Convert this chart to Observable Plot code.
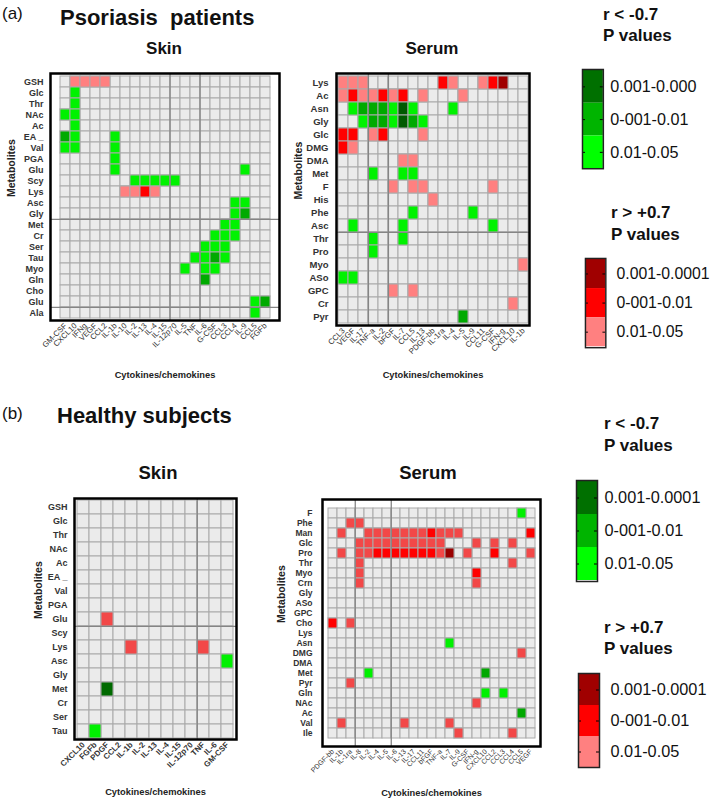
<!DOCTYPE html>
<html><head><meta charset="utf-8">
<script src="https://cdn.jsdelivr.net/npm/d3@7"></script>
<script src="https://cdn.jsdelivr.net/npm/@observablehq/plot@0.6"></script>
<style>
body{margin:0;background:#fff;font-family:"Liberation Sans",Arial,sans-serif;}
#root{position:relative;width:713px;height:803px;overflow:hidden;background:#fff;}
.abs{position:absolute;}
.abs svg{display:block;overflow:visible;}
</style></head><body><div id="root"></div>
<script>
// ---------- DATA ----------
// levels: -3 / -2 / -1 = r < -0.7 (p 0.001-0.0001 / 0.001-0.01 / 0.01-0.05); 1 / 2 / 3 = r > +0.7 (0.01-0.05 / 0.001-0.01 / 0.001-0.0001)
const levels = [-3, -2, -1, 1, 2, 3];

// (a) Psoriasis patients – Skin
const skinA_rows = ["GSH","Glc","Thr","NAc","Ac","EA _","Val","PGA","Glu","Scy","Lys","Asc","Gly","Met","Cr","Ser","Tau","Myo","Gln","Cho","Glu","Ala"];
const skinA_cols = ["GM-CSF","CXCL10","IFNg","VEGF","CCL2","IL-1b","IL-10","IL-2","IL-13","IL-4","IL-15","IL-12p70","IL-5","TNF","IL-6","G-CSF","CCL3","CCL4","IL-9","CCL5","FGFb"];
// [row index, column index, level]
const skinA_cells = [
  [0,1,1],[0,2,1],[0,3,1],[0,4,1],
  [1,1,-1],[2,1,-1],[3,0,-1],[3,1,-1],[4,1,-1],
  [5,0,-2],[5,1,-1],[5,5,-1],
  [6,0,-1],[6,1,-1],[6,5,-1],
  [7,5,-1],
  [8,5,-1],[8,18,-1],
  [9,7,-1],[9,8,-1],[9,9,-1],[9,10,-1],[9,11,-1],
  [10,6,1],[10,7,1],[10,8,2],[10,9,1],
  [11,17,-1],[11,18,-1],
  [12,17,-1],[12,18,-2],
  [13,16,-1],[13,17,-1],
  [14,15,-1],[14,16,-1],[14,17,-1],
  [15,14,-1],[15,15,-1],[15,16,-1],
  [16,13,-1],[16,14,-1],[16,15,-2],[16,16,-1],
  [17,12,-1],[17,14,-1],[17,15,-1],
  [18,14,-2],
  [20,19,-1],[20,20,-2],
  [21,19,-1]
];
const skinA_sepCols = [11, 14];
const skinA_sepRows = [13, 21];

// (a) Psoriasis patients – Serum
const serumA_rows = ["Lys","Ac","Asn","Gly","Glc","DMG","DMA","Met","F","His","Phe","Asc","Thr","Pro","Myo","ASo","GPC","Cr","Pyr"];
const serumA_cols = ["CCL3","VEGF","IL-17","TNF-a","IL-2","bFGF","IL-7","CCL5","IL-13","PDGF-bb","IL-1ra","IL-4","IL-5","IL-9","CCL11","G-CSF","IFN-g","CXCL10","IL-1b"];
const serumA_cells = [
  [0,0,1],[0,1,1],[0,2,1],[0,10,2],[0,11,1],[0,14,1],[0,15,2],[0,16,3],
  [1,0,1],[1,1,2],[1,2,1],[1,3,1],[1,4,2],[1,5,1],[1,6,2],[1,8,1],[1,12,1],
  [2,1,-1],[2,2,-2],[2,3,-2],[2,4,-2],[2,5,-1],[2,6,-3],[2,7,-1],[2,11,-1],
  [3,2,-1],[3,3,-2],[3,4,-2],[3,5,-1],[3,6,-3],[3,7,-2],[3,8,-1],
  [4,0,2],[4,1,2],[4,3,1],[4,4,2],[4,8,1],
  [5,0,2],[5,1,1],
  [6,6,1],[6,7,1],
  [7,3,-1],[7,6,-1],[7,7,-1],
  [8,5,1],[8,7,1],[8,8,1],[8,15,1],
  [9,9,1],
  [10,7,-1],[10,13,-1],
  [11,1,-1],[11,6,-1],[11,15,-1],
  [12,3,-1],[12,6,-1],
  [13,3,-1],
  [14,18,1],
  [15,0,-1],[15,1,-1],
  [16,5,1],[16,7,1],
  [17,17,1],
  [18,12,-2]
];
const serumA_sepCols = [3, 5];
const serumA_sepRows = [12];

// (b) Healthy subjects – Skin
const skinB_rows = ["GSH","Glc","Thr","NAc","Ac","EA _","Val","PGA","Glu","Scy","Lys","Asc","Gly","Met","Cr","Ser","Tau"];
const skinB_cols = ["CXCL10","FGFb","PDGF","CCL2","IL-1b","IL-2","IL-13","IL-4","IL-15","IL-12p70","TNF","IL-6","GM-CSF"];
const skinB_cells = [[8,2,1],[10,4,1],[10,10,1],[11,12,-1],[13,2,-3],[16,1,-1]];
const skinB_sepCols = [10];
const skinB_sepRows = [9];

// (b) Healthy subjects – Serum
const serumB_rows = ["F","Phe","Man","Glc","Pro","Thr","Myo","Crn","Gly","ASo","GPC","Cho","Lys","Asn","DMG","DMA","Met","Pyr","Gln","NAc","Ac","Val","Ile"];
const serumB_cols = ["PDGF-bb","IL-1b","IL-1ra","IL-8","IL-2","IL-4","IL-5","IL-6","IL-13","IL-17","CCL11","bFGF","TNF-a","IL-7","IL-9","G-CSF","IFN-g","CXCL10","CCL2","CCL3","CCL4","CCL5","VEGF"];
const serumB_cells = [
  [0,21,-1],
  [1,2,1],[1,3,1],
  [2,1,1],[2,4,1],[2,5,1],[2,6,1],[2,7,1],[2,8,1],[2,9,1],[2,10,1],[2,11,2],[2,12,1],[2,13,1],[2,14,1],[2,22,2],
  [3,3,1],[3,4,1],[3,5,1],[3,6,1],[3,7,1],[3,8,1],[3,9,1],[3,10,1],[3,11,1],[3,12,1],[3,16,1],[3,18,1],[3,20,1],
  [4,1,1],[4,3,1],[4,4,1],[4,5,2],[4,6,2],[4,7,2],[4,8,2],[4,9,2],[4,10,2],[4,11,2],[4,12,1],[4,13,3],[4,15,1],[4,18,2],[4,22,1],
  [5,3,1],[5,20,1],
  [6,3,1],[6,16,2],
  [7,3,1],[7,16,1],
  [11,0,2],[11,2,1],
  [13,13,-1],
  [14,21,1],
  [16,4,-1],[16,17,-2],
  [17,2,1],
  [18,17,-1],[18,19,-1],
  [19,16,1],
  [20,21,-2],
  [21,1,1],[21,8,1],[21,13,1],
  [22,14,1],[22,20,1]
];
const serumB_sepCols = [3, 7];
const serumB_sepRows = [];

// legends
const greenLegendA = ["0.001-0.000","0-001-0.01","0.01-0.05"];
const redLegend = ["0.001-0.0001","0-001-0.01","0.01-0.05"];
const greenLegendB = ["0.001-0.0001","0-001-0.01","0.01-0.05"];

// ---------- STYLE ----------
const paletteA = ["#005a00","#00aa00","#00f200","#ff8080","#ff0000","#a00000"];
const paletteB = ["#006a00","#00a800","#00f000","#f24848","#ff0000","#9a0000"];
const greenBar = ["#007000","#00b400","#00ff00"];
const redBar = ["#a00000","#ff0000","#ff8080"];
const FONT = "Liberation Sans, Arial, Helvetica, sans-serif";
const root = document.getElementById("root");

function place(node, left, top) {
  const d = document.createElement("div");
  d.className = "abs";
  d.style.left = left + "px";
  d.style.top = top + "px";
  d.appendChild(node);
  root.appendChild(d);
}

function heatmap(o) {
  const bw = (o.width - o.ml - o.mr) / o.cols.length;
  const bh = (o.height - o.mt - o.mb) / o.rows.length;
  const grid = d3.cross(d3.range(o.rows.length), d3.range(o.cols.length));
  return Plot.plot({
    width: o.width, height: o.height,
    marginLeft: o.ml, marginRight: o.mr, marginTop: o.mt, marginBottom: o.mb,
    style: {fontFamily: FONT, background: "transparent", overflow: "visible"},
    x: {domain: d3.range(o.cols.length), padding: 0, axis: null},
    y: {domain: d3.range(o.rows.length), padding: 0, axis: null},
    color: {type: "ordinal", domain: levels, range: o.palette},
    marks: [
      Plot.cell(grid, {x: d => d[1], y: d => d[0], fill: "#ebebeb", stroke: "#aaaaaa", strokeWidth: 1, inset: 0}),
      Plot.cell(o.cells, {x: d => d[1], y: d => d[0], fill: d => d[2], stroke: "#aaaaaa", strokeWidth: 1, inset: 0}),
      Plot.ruleX(o.sepX, {x: d => d, dx: -bw / 2, stroke: "#858585", strokeWidth: 1.3}),
      Plot.ruleY(o.sepY, {y: d => d, dy: -bh / 2, stroke: "#858585", strokeWidth: 1.3}),
      Plot.frame({stroke: "#000", strokeWidth: 2.5}),
      Plot.axisX({tickFormat: i => o.cols[i], tickRotate: -45, tickSize: 0, tickPadding: o.xpad, fontSize: o.xfs, fontWeight: o.xfw, fill: "#333", label: null}),
      Plot.axisY({tickFormat: i => o.rows[i], tickSize: 0, tickPadding: o.ypad, fontSize: o.yfs, fontWeight: "bold", fill: "#333", label: null}),
      Plot.text(["Cytokines/chemokines"], {frameAnchor: "bottom", dy: o.xlab, text: d => d, fontWeight: "bold", fontSize: 9.3, fill: "#222"}),
      Plot.text(["Metabolites"], {frameAnchor: "left", dx: o.ylab, rotate: -90, text: d => d, fontWeight: "bold", fontSize: 10.5, fill: "#222"})
    ]
  });
}

function legendBar(o) {
  return Plot.plot({
    width: o.bw + 2 + o.mr, height: o.h,
    marginLeft: 1, marginRight: o.mr + 1, marginTop: 1, marginBottom: 1,
    style: {fontFamily: FONT, background: "transparent", overflow: "visible"},
    x: {domain: ["bar"], padding: 0, axis: null},
    y: {domain: o.labels, padding: 0, axis: null},
    color: {type: "ordinal", domain: o.labels, range: o.colors},
    marks: [
      Plot.cell(o.labels, {x: () => "bar", y: d => d, fill: d => d, inset: 0}),
      Plot.tickY(o.labels, {y: d => d, stroke: "#000", insetRight: o.bw - 3}),
      Plot.tickY(o.labels, {y: d => d, stroke: "#000", insetLeft: o.bw - 3}),
      Plot.frame({stroke: "#222", strokeWidth: 1.5}),
      Plot.text(o.labels, {y: d => d, frameAnchor: "right", dx: o.tdx, dy: o.tdy || 0, textAnchor: "start", text: d => d, fontSize: 16.3, fill: "#111"})
    ]
  });
}

// ---------- HEATMAPS ----------
place(heatmap({rows: skinA_rows, cols: skinA_cols, cells: skinA_cells, palette: paletteA,
  sepX: skinA_sepCols, sepY: skinA_sepRows,
  width: 290, height: 330, ml: 50, mr: 11, mt: 13, mb: 70,
  xpad: 4, ypad: 7, xfs: 7.8, xfw: "normal", yfs: 9, xlab: 57, ylab: -39}), 0, 60);

place(heatmap({rows: serumA_rows, cols: serumA_cols, cells: serumA_cells, palette: paletteA,
  sepX: serumA_sepCols, sepY: serumA_sepRows,
  width: 250, height: 335, ml: 46, mr: 11, mt: 13, mb: 70,
  xpad: 4, ypad: 8, xfs: 7.8, xfw: "normal", yfs: 9.5, xlab: 52, ylab: -38}), 290, 60);

place(heatmap({rows: skinB_rows, cols: skinB_cols, cells: skinB_cells, palette: paletteB,
  sepX: skinB_sepCols, sepY: skinB_sepRows,
  width: 290, height: 323, ml: 74, mr: 54, mt: 18, mb: 64,
  xpad: 4, ypad: 7, xfs: 8, xfw: "bold", yfs: 9, xlab: 55, ylab: -36}), 0, 480);

place(heatmap({rows: serumB_rows, cols: serumB_cols, cells: serumB_cells, palette: paletteB,
  sepX: serumB_sepCols, sepY: serumB_sepRows,
  width: 285, height: 323, ml: 52, mr: 15, mt: 19, mb: 57,
  xpad: 4, ypad: 10, xfs: 7, xfw: "normal", yfs: 8.5, xlab: 49, ylab: -41}), 270, 480);

// ---------- LEGENDS ----------
place(legendBar({labels: greenLegendA, colors: greenBar, bw: 21, h: 102, mr: 110, tdx: 7}), 581, 68);
place(legendBar({labels: redLegend, colors: redBar, bw: 21, h: 94, mr: 110, tdx: 11}), 584, 257);
place(legendBar({labels: greenLegendB, colors: greenBar, bw: 21, h: 103, mr: 115, tdx: 7}), 575, 479);
place(legendBar({labels: redLegend, colors: redBar, bw: 21, h: 96, mr: 110, tdx: 11}), 577, 672);

// ---------- TITLES ----------
const svg = d3.select(root).append("svg")
  .attr("width", 713).attr("height", 803)
  .style("position", "absolute").style("left", 0).style("top", 0)
  .style("pointer-events", "none").style("font-family", FONT);
const texts = [
  {t: "(a)", x: 2, y: 19, fs: 17, fw: "normal", a: "start"},
  {t: "Psoriasis  patients", x: 60, y: 25, fs: 22, fw: "bold", a: "start"},
  {t: "Skin", x: 164, y: 54, fs: 17, fw: "bold", a: "middle"},
  {t: "Serum", x: 432, y: 54, fs: 17, fw: "bold", a: "middle"},
  {t: "(b)", x: 2, y: 419, fs: 17, fw: "normal", a: "start"},
  {t: "Healthy subjects", x: 57, y: 423, fs: 22, fw: "bold", a: "start"},
  {t: "Skin", x: 158, y: 479, fs: 18.5, fw: "bold", a: "middle"},
  {t: "Serum", x: 428, y: 479, fs: 18.5, fw: "bold", a: "middle"},
  {t: "r < -0.7", x: 603, y: 20, fs: 17, fw: "bold", a: "start"},
  {t: "P values", x: 603, y: 41, fs: 17, fw: "bold", a: "start"},
  {t: "r > +0.7", x: 611, y: 218, fs: 17, fw: "bold", a: "start"},
  {t: "P values", x: 611, y: 240, fs: 17, fw: "bold", a: "start"},
  {t: "r < -0.7", x: 604, y: 429, fs: 17, fw: "bold", a: "start"},
  {t: "P values", x: 604, y: 451, fs: 17, fw: "bold", a: "start"},
  {t: "r > +0.7", x: 604, y: 633, fs: 17, fw: "bold", a: "start"},
  {t: "P values", x: 604, y: 654, fs: 17, fw: "bold", a: "start"}
];
svg.selectAll("text").data(texts).join("text")
  .attr("x", d => d.x).attr("y", d => d.y)
  .attr("font-size", d => d.fs).attr("font-weight", d => d.fw)
  .attr("text-anchor", d => d.a).attr("fill", "#111")
  .style("white-space", "pre")
  .text(d => d.t);
</script></body></html>
